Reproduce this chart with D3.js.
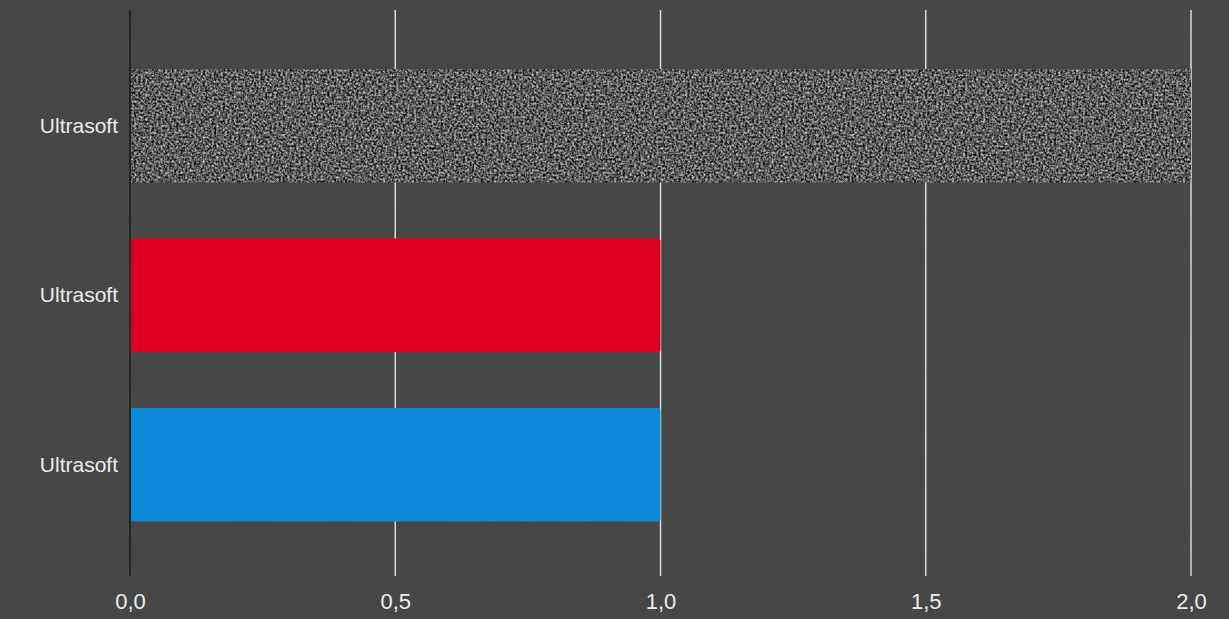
<!DOCTYPE html>
<html>
<head>
<meta charset="utf-8">
<script src="https://cdnjs.cloudflare.com/ajax/libs/d3/7.8.5/d3.min.js"></script>
<style>
	html, body { margin: 0; padding: 0; background: #474747; overflow: hidden; }
	svg { display: block; }
	.tick text { font-family: 'Liberation Sans', Arial, sans-serif; fill: #ececec; }
</style>
</head>
<body>
<div id="chart"></div>
<script>
// data
const categories = [ 'Ultrasoft', 'Ultrasoft', 'Ultrasoft' ];
const values = [ 2.0, 1.0, 1.0 ];
const barColors = [ 'url(#speckle)', '#dd0020', '#0b88d8' ];
const xTicks = [ 0, 0.5, 1, 1.5, 2 ];
const xTickLabels = [ '0,0', '0,5', '1,0', '1,5', '2,0' ];

let dimensions = {
	width  : 1229,
	height : 619,
	margin : {
		top    : 10,
		right  : 38,
		bottom : 43,
		left   : 130
	}
};
dimensions.boundedWidth = dimensions.width - dimensions.margin.left - dimensions.margin.right;
dimensions.boundedHeight = dimensions.height - dimensions.margin.top - dimensions.margin.bottom;

const svg = d3.select('#chart').append('svg').attr('width', dimensions.width).attr('height', dimensions.height);

const defs = svg.append('defs');

// speckled grey texture for the first bar
const noise = defs
	.append('filter')
	.attr('id', 'noiseFilter')
	.attr('x', 0)
	.attr('y', 0)
	.attr('width', 1)
	.attr('height', 1)
	.attr('color-interpolation-filters', 'sRGB');
noise.append('feTurbulence').attr('type', 'fractalNoise').attr('baseFrequency', 0.45).attr('numOctaves', 2).attr('seed', 3).attr('result', 't');
noise.append('feGaussianBlur').attr('in', 't').attr('stdDeviation', 0.45).attr('result', 'b');
noise
	.append('feColorMatrix')
	.attr('in', 'b')
	.attr('type', 'matrix')
	.attr('values', '1.25 0 0 0 -0.27  1.25 0 0 0 -0.265  1.25 0 0 0 -0.27  0 0 0 0 1');

const pattern = defs
	.append('pattern')
	.attr('id', 'speckle')
	.attr('patternUnits', 'userSpaceOnUse')
	.attr('width', 1229)
	.attr('height', 619);
pattern.append('rect').attr('width', 1229).attr('height', 619).attr('fill', '#555').attr('filter', 'url(#noiseFilter)');

// faint background texture
const bgNoise = defs
	.append('filter')
	.attr('id', 'bgNoise')
	.attr('x', 0)
	.attr('y', 0)
	.attr('width', 1)
	.attr('height', 1)
	.attr('color-interpolation-filters', 'sRGB');
bgNoise.append('feTurbulence').attr('type', 'fractalNoise').attr('baseFrequency', 0.03).attr('numOctaves', 3).attr('seed', 7);
bgNoise.append('feColorMatrix').attr('type', 'matrix').attr('values', '0 0 0 0 0.35  0 0 0 0 0.35  0 0 0 0 0.35  0.15 0 0 0 -0.04');

svg.append('rect').attr('width', dimensions.width).attr('height', dimensions.height).attr('fill', '#464646');
svg.append('rect').attr('width', dimensions.width).attr('height', dimensions.height).attr('filter', 'url(#bgNoise)');

const bounds = svg.append('g').attr('transform', `translate(${dimensions.margin.left}, ${dimensions.margin.top})`);

const x = d3.scaleLinear().domain([ 0, 2 ]).range([ 0, dimensions.boundedWidth ]);
const y = d3
	.scaleBand()
	.domain(d3.range(categories.length))
	.range([ 4.6, dimensions.boundedHeight ])
	.paddingInner(0.33)
	.paddingOuter(0.321);

// grid lines
bounds
	.selectAll('line.grid')
	.data(xTicks.filter((d) => d > 0))
	.enter()
	.append('line')
	.attr('class', 'grid')
	.attr('x1', (d) => x(d))
	.attr('x2', (d) => x(d))
	.attr('y1', 0)
	.attr('y2', dimensions.boundedHeight)
	.attr('stroke', '#d8d8d8')
	.attr('stroke-width', 1.5);

// x axis (labels only)
const xAxisGenerator = d3.axisBottom(x).tickValues(xTicks).tickSize(0).tickPadding(17).tickFormat((d, i) => xTickLabels[i]);
const xAxis = bounds.append('g').attr('transform', `translate(0, ${dimensions.boundedHeight})`).call(xAxisGenerator);
xAxis.select('.domain').remove();
xAxis.selectAll('text').attr('font-size', 22);

// bars
bounds
	.selectAll('rect.bar')
	.data(values)
	.enter()
	.append('rect')
	.attr('class', 'bar')
	.attr('x', x(0))
	.attr('y', (d, i) => y(i))
	.attr('width', (d) => x(d) - x(0))
	.attr('height', y.bandwidth())
	.attr('rx', (d, i) => (i === 0 ? 0 : 3))
	.attr('fill', (d, i) => barColors[i]);

// y axis
const yAxisGenerator = d3.axisLeft(y).tickSize(0).tickPadding(12).tickFormat((d, i) => categories[i]);
const yAxis = bounds.append('g').call(yAxisGenerator);
yAxis.select('.domain').remove();
yAxis.selectAll('text').attr('font-size', 21);

bounds
	.append('line')
	.attr('x1', x(0))
	.attr('x2', x(0))
	.attr('y1', 0)
	.attr('y2', dimensions.boundedHeight)
	.attr('stroke', '#252525')
	.attr('stroke-width', 2);
</script>
</body>
</html>
